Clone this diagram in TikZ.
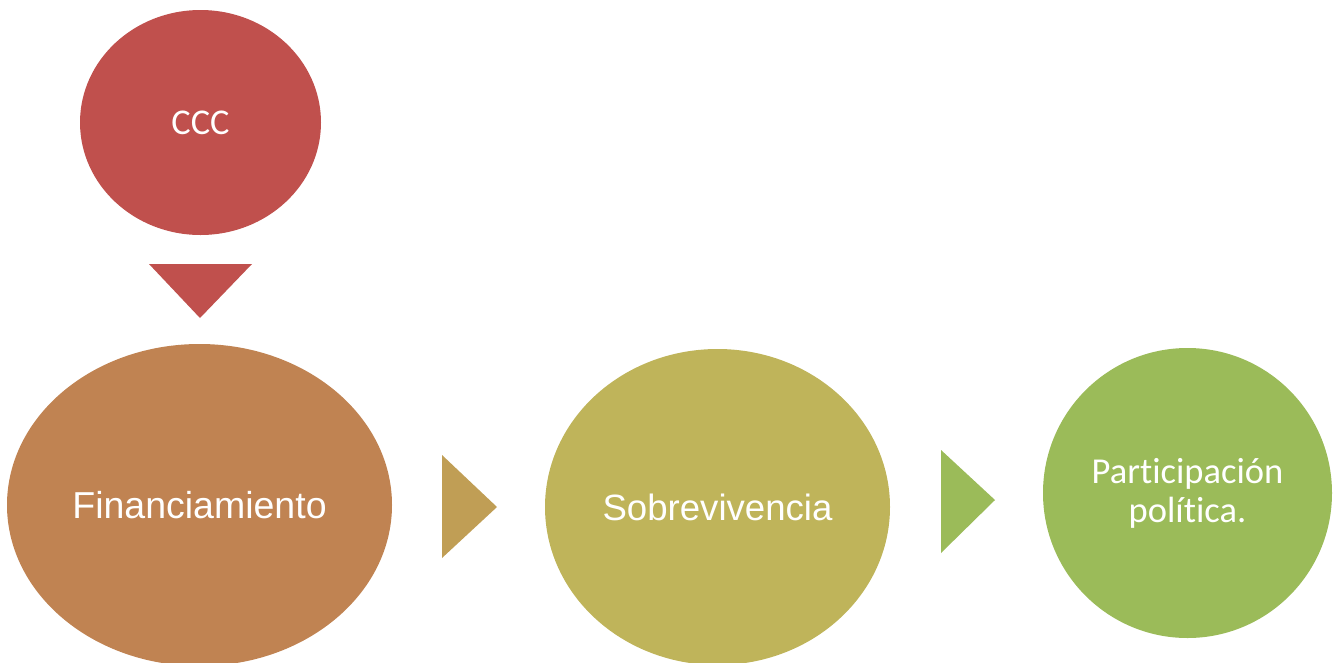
\documentclass[tikz,border=0pt]{standalone}
\usepackage{fontspec}
\setmainfont{Liberation Sans}
\newfontfamily\calib[Ligatures=NoCommon]{Carlito}
\usetikzlibrary{shapes.geometric}
\definecolor{cred}{HTML}{C0504D}
\definecolor{corange}{HTML}{C08352}
\definecolor{carrowa}{HTML}{C09E55}
\definecolor{colive}{HTML}{BFB45A}
\definecolor{cgreen}{HTML}{9BBB59}
\tikzset{
  blob/.style={ellipse, inner sep=0pt, draw=none, text=white, align=center},
  tri/.style={draw=none}
}
\begin{document}
\begin{tikzpicture}[x=1pt,y=-1pt]
\useasboundingbox (0,0) rectangle (1342,662);
\clip (0,0) rectangle (1342,662);
\node[blob, fill=cred, minimum width=241pt, minimum height=225pt, font=\calib\fontsize{36.3}{40}\selectfont] (ccc) at (200.5,122.5) {CCC};
\node[blob, fill=corange, minimum width=385pt, minimum height=322pt, font=\fontsize{37.5}{42}\selectfont] (fin) at (199.5,505) {Financiamiento};
\node[blob, fill=colive, minimum width=345pt, minimum height=316pt, font=\fontsize{36.6}{42}\selectfont] (sob) at (717.5,507) {Sobrevivencia};
\node[blob, fill=cgreen, minimum width=289pt, minimum height=290pt, font=\calib\fontsize{36.5}{39}\selectfont] (par) at (1187.5,493) {Participación\\política.};
\coordinate (t1) at (200,318);
\fill[cred] (149,264) -- (252,264) -- (t1) -- cycle;
\coordinate (t2) at (497,507);
\fill[carrowa] (442,455) -- (t2) -- (442,558) -- cycle;
\coordinate (t3) at (995,500);
\fill[cgreen] (941,450) -- (t3) -- (941,553) -- cycle;
\end{tikzpicture}
\end{document}
